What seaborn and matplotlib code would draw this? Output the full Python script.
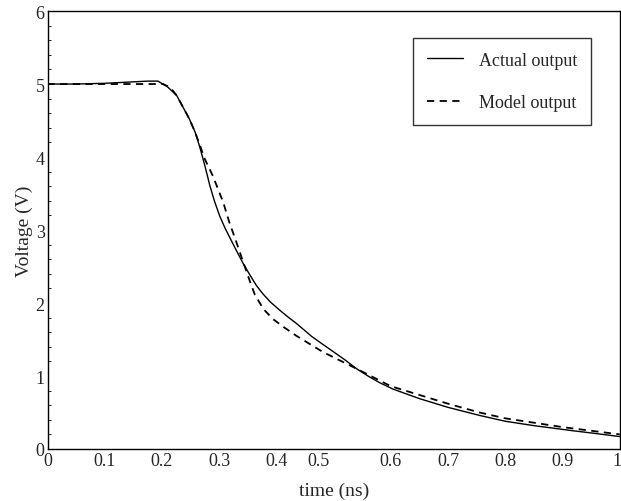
"""Step response: actual vs model output voltage."""

import matplotlib
matplotlib.use("Agg")
import matplotlib.pyplot as plt
import matplotlib.transforms as mtransforms
from matplotlib.ticker import MultipleLocator
import pandas as pd
import seaborn as sns

sns.set_theme(style="white")
plt.rcParams["font.family"] = ["Liberation Serif", "DejaVu Serif"]

# values
actual_t = [0.0, 0.05, 0.10, 0.15, 0.175, 0.193, 0.21, 0.226, 0.237, 0.248, 0.258,
            0.266, 0.275, 0.284, 0.292, 0.301, 0.31, 0.319, 0.33, 0.342, 0.354,
            0.365, 0.377, 0.39, 0.406, 0.42, 0.435, 0.45, 0.462, 0.48, 0.50,
            0.52, 0.54, 0.56, 0.58, 0.604, 0.65, 0.70, 0.755, 0.80, 0.85,
            0.918, 0.95, 1.0]
actual_v = [5.0, 5.0, 5.01, 5.03, 5.04, 5.04, 4.96, 4.84, 4.68, 4.52, 4.34,
            4.14, 3.88, 3.60, 3.39, 3.19, 3.03, 2.89, 2.72, 2.54, 2.38,
            2.24, 2.12, 2.01, 1.90, 1.81, 1.72, 1.62, 1.54, 1.44, 1.33,
            1.22, 1.10, 1.00, 0.91, 0.82, 0.69, 0.57, 0.46, 0.38, 0.32,
            0.25, 0.22, 0.17]

model_t = [0.0, 0.10, 0.202, 0.215, 0.226, 0.237, 0.248, 0.258, 0.275, 0.289,
           0.307, 0.318, 0.328, 0.342, 0.354, 0.362, 0.377, 0.394, 0.411, 0.435,
           0.481, 0.54, 0.60, 0.70, 0.755, 0.80, 0.90, 0.95, 1.0]
model_v = [5.0, 5.0, 5.0, 4.95, 4.84, 4.68, 4.52, 4.34, 3.97, 3.74,
           3.38, 3.10, 2.88, 2.56, 2.29, 2.12, 1.92, 1.78, 1.68, 1.55,
           1.33, 1.10, 0.86, 0.62, 0.50, 0.42, 0.30, 0.25, 0.20]

x_ticks = [0.0, 0.1, 0.2, 0.3, 0.4, 0.5, 0.6, 0.7, 0.8, 0.9, 1.0]
x_labels = ["0", "0.1", "0.2", "0.3", "0.4", "0.5", "0.6", "0.7", "0.8", "0.9", "1"]


def main() -> None:
    actual = pd.DataFrame({"t": actual_t, "v": actual_v})
    model = pd.DataFrame({"t": model_t, "v": model_v})

    fig = plt.figure(figsize=(6.21, 5.02), dpi=100)
    ax = fig.add_axes([0.0765, 0.1036, 0.9215, 0.8724])

    sns.lineplot(data=actual, x="t", y="v", ax=ax, color="black", linewidth=1.0,
                 label="Actual output")
    sns.lineplot(data=model, x="t", y="v", ax=ax, color="black", linewidth=1.3,
                 linestyle=(0, (4, 3)), label="Model output")

    ax.set_xlim(0, 1)
    ax.set_ylim(0, 6)
    ax.set_xticks(x_ticks)
    ax.set_xticklabels(x_labels)
    ax.yaxis.set_major_locator(MultipleLocator(1))
    ax.yaxis.set_minor_locator(MultipleLocator(0.2))
    ax.tick_params(axis="both", which="major", direction="in", length=3, width=0.8,
                   color="black", labelsize=13, pad=2)
    ax.tick_params(axis="y", which="minor", direction="in", length=2, width=0.6,
                   color="black", left=True)

    # the 0.5 label sits left of its tick in the reference; "1" is nudged in
    for lbl in ax.get_xticklabels():
        if lbl.get_text() == "0.5":
            off = mtransforms.ScaledTranslation(-0.15, 0, fig.dpi_scale_trans)
            lbl.set_transform(lbl.get_transform() + off)
        elif lbl.get_text() == "1":
            off = mtransforms.ScaledTranslation(-0.03, 0, fig.dpi_scale_trans)
            lbl.set_transform(lbl.get_transform() + off)

    for sp in ax.spines.values():
        sp.set_color("black")
        sp.set_linewidth(1.0)

    ax.set_xlabel("time (ns)", fontsize=14, labelpad=9)
    ax.set_ylabel("Voltage (V)", fontsize=14, labelpad=2)

    leg = ax.legend(loc="upper right", bbox_to_anchor=(0.9655, 0.9585), fontsize=13,
                    frameon=True, fancybox=False, handlelength=2.0,
                    labelspacing=1.4, borderpad=0.75, handletextpad=0.9)
    leg.get_frame().set_edgecolor("black")
    leg.get_frame().set_linewidth(1.0)

    fig.savefig("out.png", dpi=100)
    plt.close(fig)


if __name__ == "__main__":
    main()
